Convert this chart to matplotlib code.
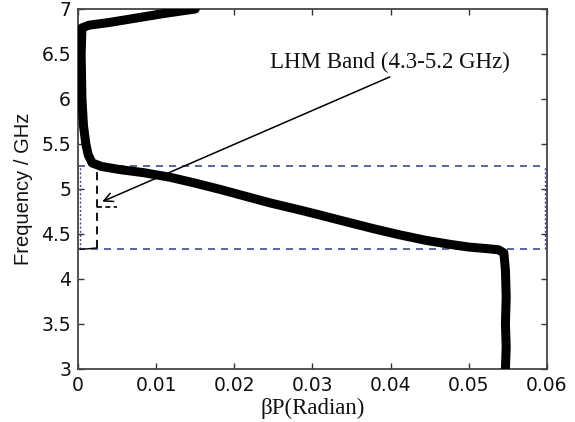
import matplotlib
matplotlib.use("Agg")
import matplotlib.pyplot as plt

# Dispersion curve (beta*P vs frequency)
beta_p = [0.0150, 0.0110, 0.0075, 0.0040, 0.0014, 0.0005, 0.0004, 0.0005,
          0.0007, 0.0010, 0.0013, 0.0018, 0.0030, 0.0054, 0.0085, 0.0118,
          0.0150, 0.0182, 0.0214, 0.0246, 0.0280, 0.0310, 0.0348, 0.0380,
          0.0412, 0.0445, 0.0476, 0.0500, 0.0520, 0.0538, 0.0545, 0.0547,
          0.0548, 0.0547, 0.0548, 0.0547]
freq = [7.00, 6.95, 6.90, 6.85, 6.82, 6.79, 6.50, 6.00,
        5.70, 5.50, 5.38, 5.29, 5.25, 5.215, 5.18, 5.13,
        5.065, 4.995, 4.92, 4.845, 4.775, 4.71, 4.625, 4.555,
        4.49, 4.43, 4.385, 4.355, 4.34, 4.325, 4.29, 4.10,
        3.80, 3.50, 3.25, 3.00]

band_low = 4.33
band_high = 5.26
marker_x = 0.0024
arrow_tip = (0.0031, 4.86)
arrow_tail = (0.0399, 6.245)
label_pos = (0.0399, 6.41)
label_text = "LHM Band (4.3-5.2 GHz)"

xticks = [0, 0.01, 0.02, 0.03, 0.04, 0.05, 0.06]
xtick_labels = ["0", "0.01", "0.02", "0.03", "0.04", "0.05", "0.06"]
yticks = [3, 3.5, 4, 4.5, 5, 5.5, 6, 6.5, 7]
ytick_labels = ["3", "3.5", "4", "4.5", "5", "5.5", "6", "6.5", "7"]

fig = plt.figure(figsize=(5.75, 4.22), dpi=100)
ax = fig.add_axes([0.1357, 0.1256, 0.8153, 0.8531])

blue = "#3d4a9c"
# blue dashed band rectangle
ax.plot([0, 0.06], [band_high, band_high], color=blue, lw=1.2, dashes=(4.2, 3.6), zorder=2)
ax.plot([0, 0.06], [band_low, band_low], color=blue, lw=1.2, dashes=(4.2, 3.6), zorder=2)
ax.plot([0.0003, 0.0003], [band_low, band_high], color=blue, lw=1.0, dashes=(1.5, 1.5), zorder=2)
ax.plot([0.0598, 0.0598], [band_low, band_high], color=blue, lw=1.0, dashes=(1.5, 1.5), zorder=2)

# black dashed marker
ax.plot([marker_x, marker_x], [band_low + 0.01, band_high], color="black", lw=1.3,
        dashes=(4.5, 3), zorder=3)
ax.plot([0.0003, 0.0012, marker_x], [band_low, band_low + 0.005, band_low + 0.015],
        color="black", lw=1.0, zorder=3)
ax.plot([marker_x, 0.0050], [4.80, 4.80], color="black", lw=1.2, dashes=(3, 2), zorder=3)

# curve
ax.plot(beta_p, freq, color="black", lw=6.5, solid_capstyle="round",
        solid_joinstyle="round", zorder=4)

# annotation
ax.annotate("", xy=arrow_tip, xytext=arrow_tail,
            arrowprops=dict(arrowstyle="->", color="black", lw=1.1,
                            mutation_scale=16, shrinkA=0, shrinkB=0), zorder=5)
ax.text(label_pos[0], label_pos[1], label_text, ha="center", va="center",
        fontsize=16.5, family="Liberation Serif", color="#111111")

ax.set_xlim(0, 0.06)
ax.set_ylim(3, 7)
ax.set_xticks(xticks)
ax.set_xticklabels(xtick_labels)
ax.set_yticks(yticks)
ax.set_yticklabels(ytick_labels)
ax.tick_params(direction="in", length=4, width=1.0, top=True, right=True,
               labelsize=13.5, colors="#333333", labelcolor="#111111", pad=5)
for s in ax.spines.values():
    s.set_color("#444444")
    s.set_linewidth(1.3)

ax.set_xlabel("βP(Radian)", fontsize=16.5, family="Liberation Serif", labelpad=2,
              color="#111111")
ax.set_ylabel("Frequency / GHz", fontsize=14.5, family="Liberation Sans", labelpad=6,
              color="#111111")

fig.savefig("out.png", dpi=100)
